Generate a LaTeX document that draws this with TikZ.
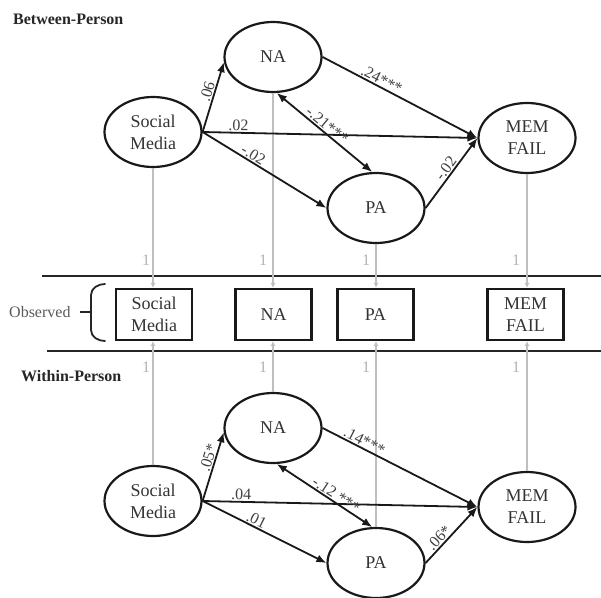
\documentclass[tikz,border=0pt]{standalone}
\usepackage{fontspec}
\setmainfont{Liberation Serif}
\usetikzlibrary{shapes.geometric,arrows.meta}
\begin{document}
\begin{tikzpicture}[x=1pt,y=-1pt,
  latent/.style={ellipse, draw=black!90, line width=2.2pt, minimum width=97pt,
    minimum height=70pt, inner sep=0pt, align=center,
    font=\fontsize{18}{22}\selectfont, text=black!80},
  indicator/.style={rectangle, draw=black!90, line width=2.2pt, minimum width=76pt,
    minimum height=51pt, inner sep=0pt, align=center,
    font=\fontsize{18}{22}\selectfont, text=black!80},
  regpath/.style={draw=black!90, line width=1.8pt, -{Latex[length=10pt,width=8pt]}},
  covpath/.style={draw=black!90, line width=1.8pt,
    {Latex[length=10pt,width=8pt]}-{Latex[length=10pt,width=8pt]}},
  loading/.style={draw=black!25, line width=1.3pt, -{Latex[length=5pt,width=5pt]}},
  coef/.style={font=\fontsize{16}{16}\selectfont, text=black!75, sloped, above,
    inner sep=1pt},
  unit/.style={font=\fontsize{16}{16}\selectfont, text=black!30, inner sep=0pt},
  heading/.style={font=\bfseries\fontsize{16}{16}\selectfont, text=black!85,
    anchor=west, inner sep=0pt},
  band/.style={draw=black!85, line width=2.4pt}
]
\useasboundingbox (0,0) rectangle (601,597);

% ---------- headings ----------
\node[heading] (hdB) at (13,19) {Between-Person};
\node[heading] (hdW) at (21,376) {Within-Person};

% ---------- between-person latent variables ----------
\node[latent] (smB)  at (153,132) {Social\\Media};
\node[latent] (naB)  at (273,57)  {NA};
\node[latent] (paB)  at (376,208) {PA};
\node[latent] (memB) at (527,138) {MEM\\FAIL};

% ---------- observed indicators ----------
\node[indicator] (smO)  at (154,314.5)   {Social\\Media};
\node[indicator] (naO)  at (273.5,314.5) {NA};
\node[indicator] (paO)  at (375.5,314.5) {PA};
\node[indicator] (memO) at (525.5,314.5) {MEM\\FAIL};

% ---------- within-person latent variables ----------
\node[latent] (smW)  at (153,501) {Social\\Media};
\node[latent] (naW)  at (273,428) {NA};
\node[latent] (paW)  at (376,563) {PA};
\node[latent] (memW) at (527,507) {MEM\\FAIL};

% ---------- band around the observed layer ----------
\coordinate (bandTL) at (42,276);
\coordinate (bandTR) at (601,276);
\coordinate (bandBL) at (47,351);
\coordinate (bandBR) at (601,351);
\draw[band] (bandTL) -- (bandTR);
\draw[band] (bandBL) -- (bandBR);

% bracket grouping the observed row
\coordinate (brTop) at (105,284);
\coordinate (brBot) at (105,341);
\coordinate (brTip) at (80,312);
\draw[draw=black!85, line width=1.8pt, line cap=round]
  (brTop) to[out=180,in=90] (91,295) -- (91,330) to[out=-90,in=180] (brBot);
\draw[draw=black!85, line width=1.8pt] (brTip) -- (91,312);
\node[font=\fontsize{16}{16}\selectfont, text=black!65, anchor=west, inner sep=0pt]
  (obs) at (9,312) {Observed};

% ---------- loadings (fixed to 1) ----------
\draw[loading] (smB.south)  -- (smB.south  |- smO.north);
\draw[loading] (naB.south)  -- (naB.south  |- naO.north);
\draw[loading] (paB.south)  -- (paB.south  |- paO.north);
\draw[loading] (memB.south) -- (memB.south |- memO.north);
\draw[loading] (smW.north)  -- (smW.north  |- smO.south);
\draw[loading] (naW.north)  -- (naW.north  |- naO.south);
\draw[loading] (paW.north)  -- (paW.north  |- paO.south);
\draw[loading] (memW.north) -- (memW.north |- memO.south);

\node[unit] (u1) at (146,260) {1};
\node[unit] (u2) at (263,260) {1};
\node[unit] (u3) at (366,260) {1};
\node[unit] (u4) at (516,260) {1};
\node[unit] (u5) at (146,367) {1};
\node[unit] (u6) at (263,367) {1};
\node[unit] (u7) at (366,367) {1};
\node[unit] (u8) at (516,367) {1};

% ---------- between-person paths ----------
\draw[regpath] (smB.east) -- node[coef, pos=.55] {.06} (naB.186);
\draw[regpath] (smB.east) -- node[coef, pos=.13] {.02} (memB.west);
\draw[regpath] (smB.east) -- node[coef, pos=.38] {-.02} (paB.west);
\draw[regpath] (naB.east) -- node[coef, pos=.36] {.24***} (memB.west);
\draw[covpath] (naB.-84) -- node[coef, pos=.48] {-.21***} (paB.96);
\draw[regpath] (paB.east) -- node[coef, pos=.5] {-.02} (memB.west);

% ---------- within-person paths ----------
\draw[regpath] (smW.east) -- node[coef, pos=.6] {.05*} (naW.185);
\draw[regpath] (smW.east) -- node[coef, pos=.14] {.04} (memW.west);
\draw[regpath] (smW.east) -- node[coef, pos=.41] {.01} (paW.west);
\draw[regpath] (naW.east) -- node[coef, pos=.25] {.14***} (memW.west);
\draw[covpath] (naW.-84) -- node[coef, pos=.58] {-.12 ***} (paW.96);
\draw[regpath] (paW.east) -- node[coef, pos=.36] {.06*} (memW.west);
\end{tikzpicture}
\end{document}
